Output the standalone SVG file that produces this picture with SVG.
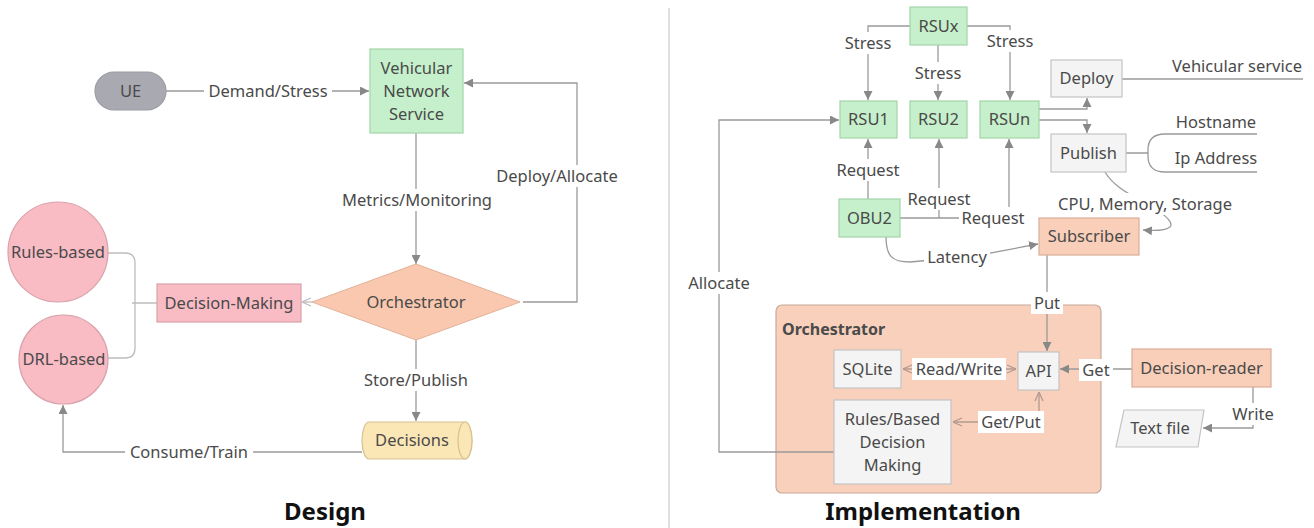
<svg xmlns="http://www.w3.org/2000/svg" width="1314" height="528" viewBox="0 0 1314 528">
  <defs>
    <style>
      text { font-family: "Noto Sans", "Open Sans", sans-serif; font-size: 16.5px; fill: #4a4a4a; text-anchor: middle; }
      .title { font-size: 24px; font-weight: bold; fill: #111; }
      .bold { font-weight: bold; font-size: 16px; text-anchor: start; }
      .line { fill: none; stroke: #9a9a9a; stroke-width: 1.3; }
      .inner { fill: none; stroke: #b39a90; stroke-width: 1.3; }
      .faint { fill: none; stroke: #bdbdbd; stroke-width: 1.3; }
      .lbl { fill: #fff; }
      .green { fill: #c6f0cb; stroke: #a3d4a9; stroke-width: 1.2; }
      .peach { fill: #f9cfb9; stroke: #d9ad98; stroke-width: 1.2; }
      .pink { fill: #f9bcc5; stroke: #d9a2aa; stroke-width: 1.2; }
      .grey { fill: #f4f4f4; stroke: #c4c4c4; stroke-width: 1.2; }
    </style>
    <marker id="arr" viewBox="0 0 10 10" refX="10" refY="5" markerWidth="9" markerHeight="9" markerUnits="userSpaceOnUse" orient="auto">
      <path d="M0,0 L10,5 L0,10 z" fill="#888"/>
    </marker>
    <marker id="open" viewBox="0 0 10 10" refX="10" refY="5" markerWidth="10" markerHeight="10" markerUnits="userSpaceOnUse" orient="auto-start-reverse">
      <path d="M1,1 L10,5 L1,9" fill="none" stroke="#b39a90" stroke-width="1.3"/>
    </marker>
    <marker id="openGrey" viewBox="0 0 10 10" refX="10" refY="5" markerWidth="10" markerHeight="10" markerUnits="userSpaceOnUse" orient="auto">
      <path d="M1,1 L10,5 L1,9" fill="none" stroke="#bdbdbd" stroke-width="1.3"/>
    </marker>
  </defs>

  <rect width="1314" height="528" fill="#fff"/>

  <!-- divider between the two halves -->
  <line x1="669" y1="8" x2="669" y2="528" stroke="#cfcfcf" stroke-width="1.3"/>

  <!-- orchestrator container (drawn under its connectors) -->
  <g id="orchestrator-box">
    <rect x="776" y="305" width="325" height="188" rx="6" fill="#f9d0bc" stroke="#c9a898" stroke-width="1.2"/>
    <text class="bold" x="782" y="335">Orchestrator</text>
  </g>

  <!-- connectors -->
  <g id="connectors">
    <!-- design -->
    <path class="line" d="M166,91 H369" marker-end="url(#arr)"/>
    <path class="line" d="M416,133 V264" marker-end="url(#arr)"/>
    <path class="line" d="M523,302 H577 V83 H464" marker-end="url(#arr)"/>
    <path class="line" d="M416,340 V421" marker-end="url(#arr)"/>
    <path class="line" d="M362,452 H63 V405" marker-end="url(#arr)"/>
    <path class="faint" d="M312,302 H302" marker-end="url(#openGrey)"/>
    <path class="faint" d="M108,253 H125 Q135,253 135,263 V348 Q135,358 125,358 H108 M132,303 H157"/>

    <!-- implementation -->
    <path class="line" d="M910,26 H868 V100" marker-end="url(#arr)"/>
    <path class="line" d="M938,45 V100" marker-end="url(#arr)"/>
    <path class="line" d="M967,26 H1010 V100" marker-end="url(#arr)"/>
    <path class="line" d="M868,199 V139" marker-end="url(#arr)"/>
    <path class="line" d="M900,218 H939 V139" marker-end="url(#arr)"/>
    <path class="line" d="M939,218 H1009 V139" marker-end="url(#arr)"/>
    <path class="line" d="M886,237 C886,256 892,262 910,262 L975,256 L1038,244" marker-end="url(#arr)"/>
    <path class="line" d="M1039,109 H1087 V98" marker-end="url(#arr)"/>
    <path class="line" d="M1039,120 H1087 V133" marker-end="url(#arr)"/>
    <path class="line" d="M1122,79 H1303"/>
    <path class="line" d="M1126,153 H1148 M1257,134 H1165 Q1148,134 1148,150 V156 Q1148,172 1165,172 H1257"/>
    <path class="line" d="M1105,172 C1112,184 1125,192 1140,200 C1160,210 1175,222 1170,227 C1165,231 1155,231 1143,230" marker-end="url(#arr)"/>
    <path class="line" d="M1047,255 V351" marker-end="url(#arr)"/>
    <path class="line" d="M1132,369 H1060" marker-end="url(#arr)"/>
    <path class="line" d="M1253,387 V428 H1203" marker-end="url(#arr)"/>
    <path class="line" d="M835,452 H719 V120 H839" marker-end="url(#arr)"/>
    <path class="inner" d="M903,369 H1016" marker-start="url(#open)" marker-end="url(#open)"/>
    <path class="inner" d="M1039,392 V422 H953" marker-start="url(#open)" marker-end="url(#open)"/>

    <!-- connector labels -->
    <g id="labels">
      <rect class="lbl" x="204" y="80" width="128" height="22"/><text x="268" y="96.5">Demand/Stress</text>
      <rect class="lbl" x="339" y="189" width="156" height="22"/><text x="417" y="205.5">Metrics/Monitoring</text>
      <rect class="lbl" x="491" y="165" width="132" height="22"/><text x="557" y="181.5">Deploy/Allocate</text>
      <rect class="lbl" x="359" y="369" width="114" height="22"/><text x="416" y="385.5">Store/Publish</text>
      <rect class="lbl" x="125" y="441" width="128" height="22"/><text x="189" y="457.5">Consume/Train</text>

      <rect class="lbl" x="842" y="32" width="52" height="22"/><text x="868" y="48.5">Stress</text>
      <rect class="lbl" x="912" y="62" width="52" height="22"/><text x="938" y="78.5">Stress</text>
      <rect class="lbl" x="984" y="30" width="52" height="22"/><text x="1010" y="46.5">Stress</text>
      <rect class="lbl" x="834" y="159" width="68" height="22"/><text x="868" y="175.5">Request</text>
      <rect class="lbl" x="905" y="188" width="68" height="22"/><text x="939" y="204.5">Request</text>
      <rect class="lbl" x="959" y="207" width="68" height="22"/><text x="993" y="223.5">Request</text>
      <rect class="lbl" x="924" y="246" width="66" height="22"/><text x="957" y="262.5">Latency</text>
      <rect class="lbl" x="685" y="272" width="68" height="22"/><text x="719" y="288.5">Allocate</text>
      <rect class="lbl" x="1055" y="193" width="180" height="22"/><text x="1145" y="209.5">CPU, Memory, Storage</text>
      <rect class="lbl" x="1031" y="292" width="32" height="22"/><text x="1047" y="308.5">Put</text>
      <rect class="lbl" x="912" y="358" width="94" height="22"/><text x="959" y="374.5">Read/Write</text>
      <rect class="lbl" x="978" y="411" width="66" height="22"/><text x="1011" y="427.5">Get/Put</text>
      <rect class="lbl" x="1079" y="359" width="34" height="22"/><text x="1096" y="375.5">Get</text>
      <rect class="lbl" x="1229" y="403" width="48" height="22"/><text x="1253" y="419.5">Write</text>

      <text x="1237" y="71.5">Vehicular service</text>
      <text x="1216" y="127.5">Hostname</text>
      <text x="1216" y="163.5">Ip Address</text>
    </g>
  </g>

  <!-- design nodes -->
  <g id="ue">
    <rect x="95" y="72" width="71" height="38" rx="19" fill="#a9a9b1" stroke="#9b9ba3" stroke-width="1.2"/>
    <text x="130.5" y="96.5">UE</text>
  </g>
  <g id="vehicular-network-service">
    <rect class="green" x="370" y="49" width="93" height="84"/>
    <text x="416.5" y="73.5">Vehicular</text>
    <text x="416.5" y="96.5">Network</text>
    <text x="416.5" y="119.5">Service</text>
  </g>
  <g id="orchestrator">
    <polygon points="416,264 520,302 416,340 312,302" fill="#f9c8ae" stroke="#e2b29a" stroke-width="1"/>
    <text x="416" y="307.5">Orchestrator</text>
  </g>
  <g id="decision-making">
    <rect class="pink" x="157" y="284" width="144" height="38"/>
    <text x="229" y="308.5">Decision-Making</text>
  </g>
  <g id="rules-based">
    <circle class="pink" cx="58" cy="252" r="50"/>
    <text x="58" y="257.5">Rules-based</text>
  </g>
  <g id="drl-based">
    <circle class="pink" cx="63.5" cy="359.5" r="44.5"/>
    <text x="64" y="365">DRL-based</text>
  </g>
  <g id="decisions">
    <path d="M369,422 H465 A7,18.5 0 0 1 465,459 H369 A7,18.5 0 0 1 369,422 Z" fill="#fbe6b5" stroke="#d6c28f" stroke-width="1.2"/>
    <ellipse cx="465" cy="440.5" rx="7" ry="18.5" fill="#fbe6b5" stroke="#d6c28f" stroke-width="1.2"/>
    <text x="412" y="446">Decisions</text>
  </g>

  <!-- implementation nodes -->
  <g id="rsux">
    <rect class="green" x="910" y="7" width="57" height="38"/>
    <text x="938.5" y="31.5">RSUx</text>
  </g>
  <g id="rsu1">
    <rect class="green" x="840" y="101" width="57" height="37"/>
    <text x="868.5" y="125">RSU1</text>
  </g>
  <g id="rsu2">
    <rect class="green" x="910" y="101" width="57" height="37"/>
    <text x="938.5" y="125">RSU2</text>
  </g>
  <g id="rsun">
    <rect class="green" x="980" y="101" width="59" height="37"/>
    <text x="1009.5" y="125">RSUn</text>
  </g>
  <g id="obu2">
    <rect class="green" x="839" y="199" width="61" height="38"/>
    <text x="869.5" y="223.5">OBU2</text>
  </g>
  <g id="deploy">
    <rect class="grey" x="1051" y="60" width="71" height="37"/>
    <text x="1086.5" y="84">Deploy</text>
  </g>
  <g id="publish">
    <rect class="grey" x="1051" y="134" width="75" height="38"/>
    <text x="1088.5" y="158.5">Publish</text>
  </g>
  <g id="subscriber">
    <rect class="peach" x="1039" y="218" width="100" height="37"/>
    <text x="1089" y="242">Subscriber</text>
  </g>
  <g id="sqlite">
    <rect class="grey" x="834" y="350" width="67" height="38"/>
    <text x="867.5" y="374.5">SQLite</text>
  </g>
  <g id="api">
    <rect class="grey" x="1018" y="352" width="41" height="38"/>
    <text x="1038.5" y="376.5">API</text>
  </g>
  <g id="rules-decision-making">
    <rect class="grey" x="834" y="400" width="117" height="84"/>
    <text x="892.5" y="424.5">Rules/Based</text>
    <text x="892.5" y="447.5">Decision</text>
    <text x="892.5" y="470.5">Making</text>
  </g>
  <g id="decision-reader">
    <rect class="peach" x="1132" y="349" width="139" height="38"/>
    <text x="1201.5" y="373.5">Decision-reader</text>
  </g>
  <g id="text-file">
    <polygon points="1124,410 1204,410 1198,447 1116,447" fill="#f4f4f4" stroke="#c4c4c4" stroke-width="1.2"/>
    <text x="1160" y="434">Text file</text>
  </g>

  <!-- section titles -->
  <text class="title" x="325" y="520">Design</text>
  <text class="title" x="923" y="520">Implementation</text>
</svg>
